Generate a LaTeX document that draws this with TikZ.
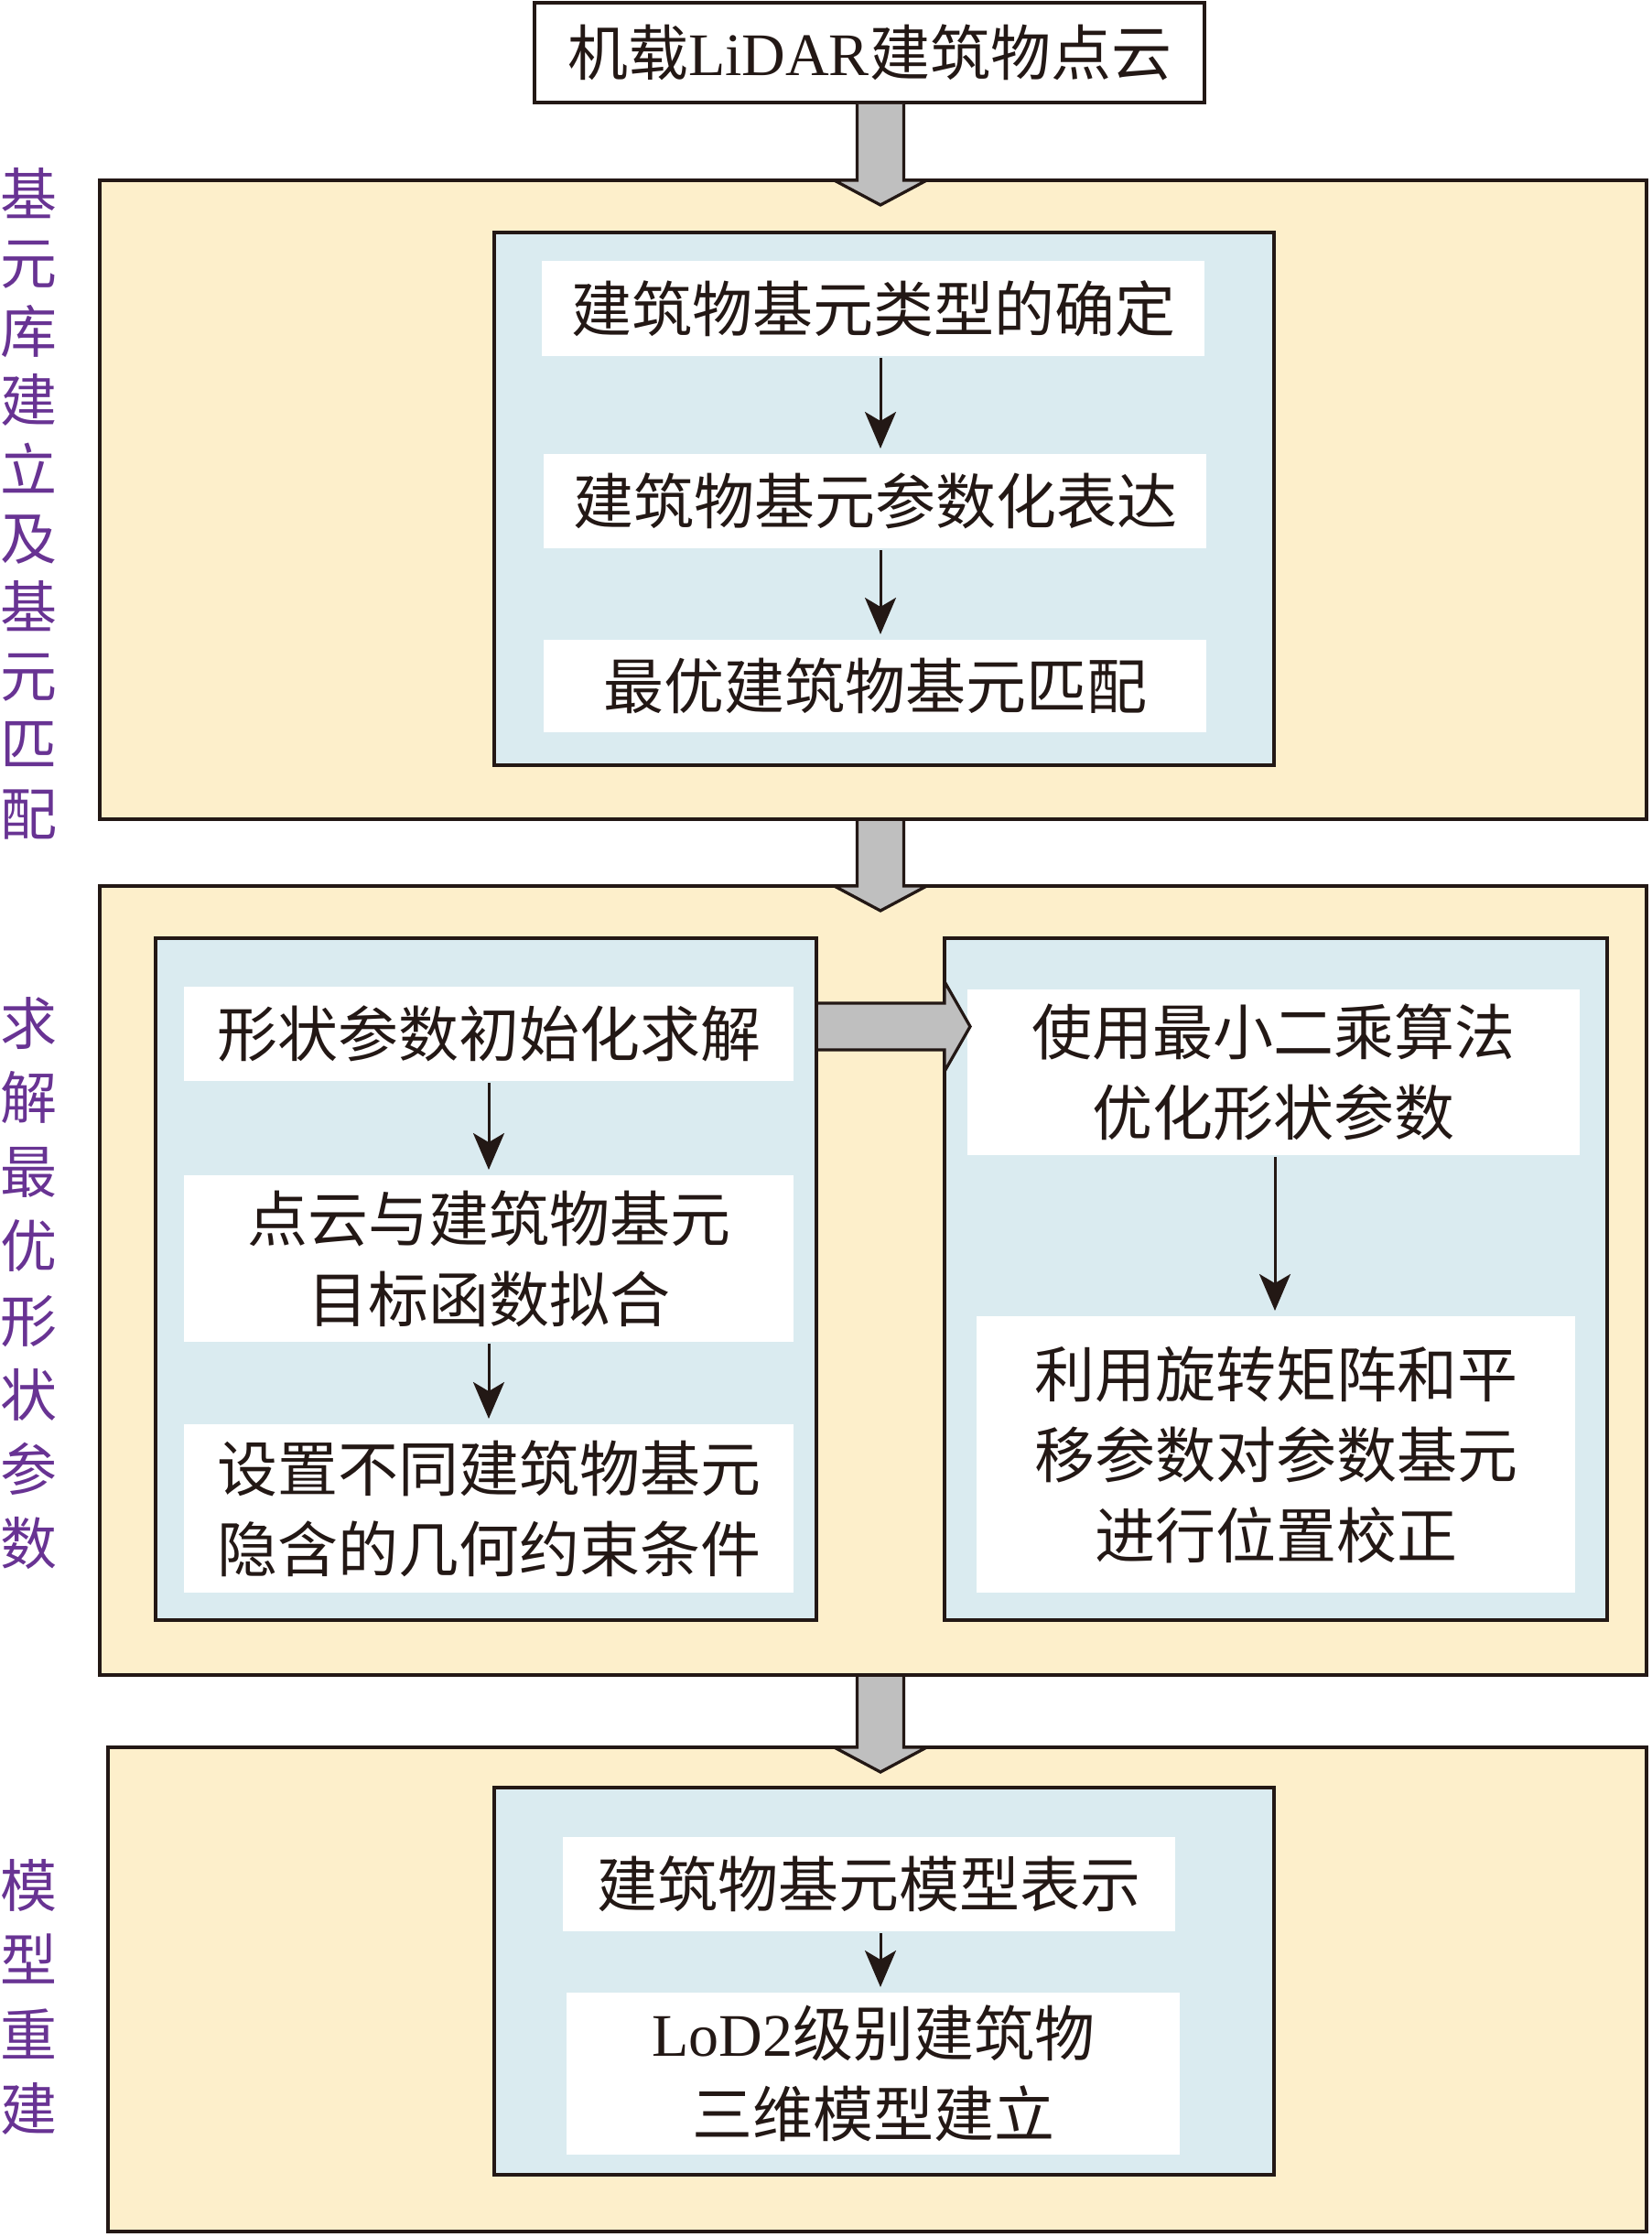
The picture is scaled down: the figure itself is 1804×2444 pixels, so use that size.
\documentclass[tikz,border=0pt]{standalone}
\usepackage{fontspec}
\setmainfont{Noto Sans CJK SC}
\newfontfamily\lat{Liberation Serif}
\usetikzlibrary{calc,arrows.meta}
\definecolor{cream}{HTML}{FDEFCB}
\definecolor{lblue}{HTML}{DAEBF0}
\definecolor{ink}{HTML}{231815}
\definecolor{purp}{HTML}{683393}
\definecolor{agray}{HTML}{BFBFBF}
\newcommand\mkbox[7]{\node[#6, minimum width={(#4-#2)*0.5pt}, minimum height={(#5-#3)*0.5pt}] (#1) at ({(#2+#4)/2},{(#3+#5)/2}) {#7};}
\newcommand\varrow[3]{%
  \draw[blockarrow] ($(#1.south -| #3)+(-25.5,2)$) -- ($(#2.north -| #3)+(-25.5,0)$) -- ($(#2.north -| #3)+(-50.5,0)$) -- ($(#2.north -| #3)+(0,27)$) -- ($(#2.north -| #3)+(50.5,0)$) -- ($(#2.north -| #3)+(25.5,0)$) -- ($(#1.south -| #3)+(25.5,2)$);}
\begin{document}
\begin{tikzpicture}[x=0.5pt,y=-0.5pt,
 box/.style={inner sep=0pt, outer sep=0pt, line width=1.65pt, draw=ink},
 secbox/.style={box, fill=cream},
 bluebox/.style={box, fill=lblue},
 whitebox/.style={inner sep=0pt, outer sep=0pt, fill=white, text=ink, align=center, font=\fontsize{33}{44}\selectfont},
 topbox/.style={box, fill=white, text=ink, align=center, font=\fontsize{33}{44}\selectfont},
 vlabel/.style={text=purp, align=center, inner sep=0pt},
 blockarrow/.style={fill=agray, draw=ink, line width=1.65pt, line join=miter},
 thinarrow/.style={draw=ink, line width=1.5pt, -{Stealth[length=20pt,width=17pt,inset=5pt]}, shorten <=1pt, shorten >=3pt}
]
\useasboundingbox (0,0) rectangle (1804,2444);

\coordinate (ax) at (962,0);
\coordinate (axL) at (534,0);
\coordinate (axR) at (1393,0);
\coordinate (hy) at (0,1121.5);

% top box
\mkbox{top}{584}{3}{1316}{112}{topbox}{机载{\lat LiDAR}建筑物点云}

% section 1
\mkbox{sec1}{109}{197}{1799}{895}{secbox}{}
\mkbox{in1}{540}{254}{1392}{836}{bluebox}{}
\mkbox{b1}{592}{285}{1316}{389}{whitebox}{建筑物基元类型的确定}
\mkbox{b2}{594}{496}{1318}{599}{whitebox}{建筑物基元参数化表达}
\mkbox{b3}{594}{699}{1318}{800}{whitebox}{最优建筑物基元匹配}

% section 2
\mkbox{sec2}{109}{968}{1799}{1830}{secbox}{}
\mkbox{inL}{170}{1025}{892}{1770}{bluebox}{}
\mkbox{inR}{1032}{1025}{1756}{1770}{bluebox}{}
\mkbox{a1}{201}{1078}{867}{1181}{whitebox}{形状参数初始化求解}
\mkbox{a2}{201}{1284}{867}{1466}{whitebox}{点云与建筑物基元\\目标函数拟合}
\mkbox{a3}{201}{1556}{867}{1740}{whitebox}{设置不同建筑物基元\\隐含的几何约束条件}
\mkbox{c1}{1057}{1081}{1726}{1262}{whitebox}{使用最小二乘算法\\优化形状参数}
\mkbox{c2}{1067}{1438}{1721}{1740}{whitebox}{利用旋转矩阵和平\\移参数对参数基元\\进行位置校正}

% section 3
\mkbox{sec3}{118}{1909}{1799}{2438}{secbox}{}
\mkbox{in3}{540}{1953}{1392}{2376}{bluebox}{}
\mkbox{d1}{615}{2007}{1284}{2110}{whitebox}{建筑物基元模型表示}
\mkbox{d2}{619}{2177}{1289}{2354}{whitebox}{{\lat LoD2}级别建筑物\\三维模型建立}

% labels
\node[vlabel, font=\fontsize{31}{37.6}\selectfont] (lab1) at (31,550) {基\\元\\库\\建\\立\\及\\基\\元\\匹\\配};
\node[vlabel, font=\fontsize{31}{40.6}\selectfont] (lab2) at (31,1402) {求\\解\\最\\优\\形\\状\\参\\数};
\node[vlabel, font=\fontsize{31}{40.8}\selectfont] (lab3) at (31,2182) {模\\型\\重\\建};

% block arrows
\varrow{top}{sec1}{ax}
\varrow{sec1}{sec2}{ax}
\varrow{sec2}{sec3}{ax}
\draw[blockarrow] ($(inL.east |- hy)+(2,-25.5)$) -- ($(inR.west |- hy)+(0,-25.5)$) -- ($(inR.west |- hy)+(0,-49)$) -- ($(inR.west |- hy)+(28,0)$) -- ($(inR.west |- hy)+(0,49)$) -- ($(inR.west |- hy)+(0,25.5)$) -- ($(inL.east |- hy)+(2,25.5)$);

% thin arrows
\draw[thinarrow] (b1.south -| ax) -- (b2.north -| ax);
\draw[thinarrow] (b2.south -| ax) -- (b3.north -| ax);
\draw[thinarrow] (a1.south -| axL) -- (a2.north -| axL);
\draw[thinarrow] (a2.south -| axL) -- (a3.north -| axL);
\draw[thinarrow] (c1.south -| axR) -- (c2.north -| axR);
\draw[thinarrow] (d1.south -| ax) -- (d2.north -| ax);
\end{tikzpicture}
\end{document}
